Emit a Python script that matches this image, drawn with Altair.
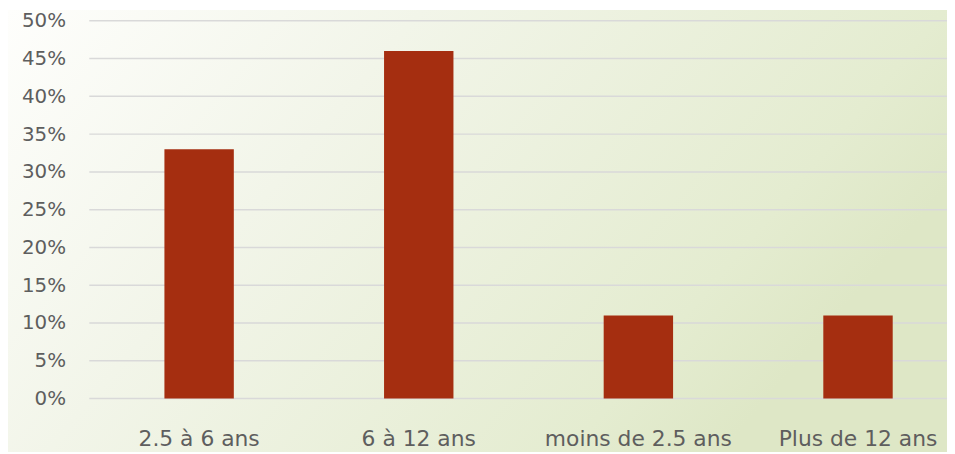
import altair as alt
import pandas as pd

categories = ["2.5 à 6 ans", "6 à 12 ans", "moins de 2.5 ans", "Plus de 12 ans"]
values = [0.33, 0.46, 0.11, 0.11]
y_ticks = [0, 0.05, 0.10, 0.15, 0.20, 0.25, 0.30, 0.35, 0.40, 0.45, 0.50]

df = pd.DataFrame({"cat": categories, "val": values})
grid_df = pd.DataFrame({"t": y_ticks})

W, H = 865, 381
PL, PT, PB = 82, 11, 54

yscale = alt.Scale(domain=[0, 0.5], nice=False)
yaxis = alt.Axis(
    values=y_ticks, format=".0%", domain=False, ticks=False, grid=False,
    zindex=1, labelOverlap=False,
    labelPadding=24, labelFontSize=20, labelColor="#5E5E5E",
    labelFont="DejaVu Sans",
)

bg = alt.Chart(pd.DataFrame({"k": [0]})).mark_rect(
    fill=alt.Gradient(
        gradient="linear",
        x1=0, y1=0, x2=1, y2=0.4,
        stops=[
            alt.GradientStop(color="#FEFEFC", offset=0),
            alt.GradientStop(color="#F2F5E9", offset=0.38),
            alt.GradientStop(color="#E4ECD0", offset=0.86),
            alt.GradientStop(color="#DEE7C6", offset=1),
        ],
    ),
    clip=False,
).encode(
    x=alt.value(-PL), x2=alt.value(W),
    y=alt.value(-PT), y2=alt.value(H + PB),
)

grid = alt.Chart(grid_df).mark_rule(color="#D9D9D9", strokeWidth=1.5).encode(
    y=alt.Y("t:Q", scale=yscale, title=None, axis=yaxis),
    x=alt.value(0), x2=alt.value(W),
)

bars = alt.Chart(df).mark_bar(color="#A52E10").encode(
    x=alt.X(
        "cat:N",
        sort=categories,
        title=None,
        scale=alt.Scale(range=[0, 886], paddingInner=0.684, paddingOuter=0.342),
        axis=alt.Axis(
            labelAngle=0, domain=False, ticks=False, grid=False, zindex=1,
            labelPadding=30, labelFontSize=22, labelColor="#5E5E5E",
            labelFont="DejaVu Sans", labelOverlap=False, labelLimit=400,
        ),
    ),
    y=alt.Y("val:Q", title=None, scale=yscale, axis=yaxis),
)

chart = alt.layer(bg, grid, bars).properties(
    width=W, height=H,
    autosize=alt.AutoSizeParams(type="none"),
    padding={"left": PL, "top": PT, "right": 0, "bottom": PB},
).configure_view(stroke=None).configure(background="#FFFFFF")

chart.save("out.html", embed_options={"renderer": "svg", "actions": False})
